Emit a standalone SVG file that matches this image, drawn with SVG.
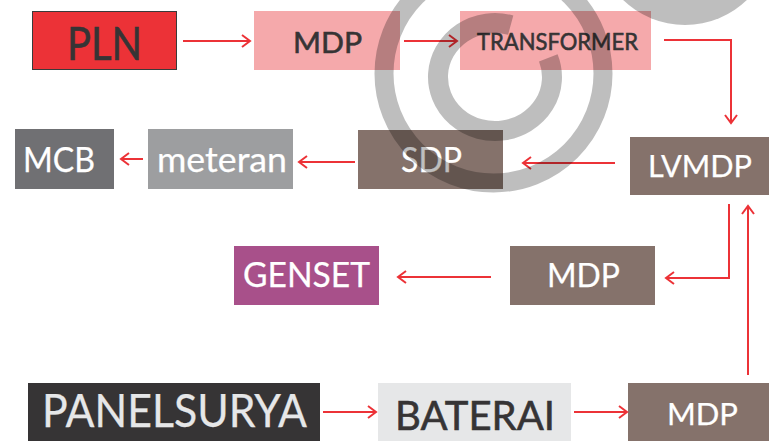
<svg xmlns="http://www.w3.org/2000/svg" width="769" height="441" viewBox="0 0 769 441">
  <style>
    .lbl { font-family: Lato, "Noto Sans", "Liberation Sans", sans-serif; text-anchor: middle; }
    .dark { fill: #363435; stroke: #363435; stroke-width: 0.6px; }
    .light { fill: #ffffff; stroke: #ffffff; stroke-width: 0.25px; }
    .pale { fill: #e6e7e8; stroke: #e6e7e8; stroke-width: 0.25px; }
    .link { fill: none; stroke: #ec3237; stroke-width: 2; marker-end: url(#head); }
  </style>
  <defs>
    <marker id="head" markerUnits="userSpaceOnUse" markerWidth="12" markerHeight="14" refX="9" refY="7" orient="auto">
      <path d="M1,1 L9,7 L1,13" fill="none" stroke="#ec3237" stroke-width="2"/>
    </marker>
  </defs>
  <rect width="769" height="441" fill="#ffffff"/>

  <!-- supply chain nodes -->
  <g id="pln">
    <rect x="32.5" y="11.5" width="144" height="58" fill="#ec3237" stroke="#3a3a3a" stroke-width="1"/>
    <text class="lbl dark" x="104.5" y="60" font-size="46" textLength="75" lengthAdjust="spacingAndGlyphs">PLN</text>
  </g>
  <g id="mdp-top">
    <rect x="254" y="11" width="146" height="59" fill="#f5a9ab"/>
    <text class="lbl dark" x="327.5" y="53" font-size="29" textLength="69" lengthAdjust="spacingAndGlyphs">MDP</text>
  </g>
  <g id="transformer">
    <rect x="460" y="11" width="191" height="59" fill="#f5a9ab"/>
    <text class="lbl dark" x="557.5" y="50" font-size="23" textLength="161" lengthAdjust="spacingAndGlyphs">TRANSFORMER</text>
  </g>
  <g id="lvmdp">
    <rect x="630" y="137" width="139" height="58" fill="#85726b"/>
    <text class="lbl light" x="700" y="177" font-size="30" textLength="104" lengthAdjust="spacingAndGlyphs">LVMDP</text>
  </g>
  <g id="sdp">
    <rect x="358" y="130" width="145" height="59" fill="#85726b"/>
    <text class="lbl light" x="431.5" y="172" font-size="34" textLength="61" lengthAdjust="spacingAndGlyphs">SDP</text>
  </g>
  <g id="meteran">
    <rect x="148" y="129" width="145" height="60" fill="#9d9ea0"/>
    <text class="lbl light" x="222" y="172" font-size="35" textLength="130" lengthAdjust="spacingAndGlyphs">meteran</text>
  </g>
  <g id="mcb">
    <rect x="15" y="129" width="99" height="60" fill="#707073"/>
    <text class="lbl light" x="59" y="172" font-size="34" textLength="72" lengthAdjust="spacingAndGlyphs">MCB</text>
  </g>
  <g id="mdp-mid">
    <rect x="510" y="246" width="145" height="59" fill="#85726b"/>
    <text class="lbl light" x="583.5" y="287" font-size="32" textLength="73" lengthAdjust="spacingAndGlyphs">MDP</text>
  </g>
  <g id="genset">
    <rect x="234" y="246" width="145" height="59" fill="#a8508a"/>
    <text class="lbl light" x="306.5" y="287" font-size="34" textLength="127" lengthAdjust="spacingAndGlyphs">GENSET</text>
  </g>
  <g id="panelsurya">
    <rect x="28" y="383" width="292" height="58" fill="#363435"/>
    <text class="lbl pale" x="174.5" y="427" font-size="46" textLength="265" lengthAdjust="spacingAndGlyphs">PANELSURYA</text>
  </g>
  <g id="baterai">
    <rect x="378" y="383" width="193" height="58" fill="#e6e7e8"/>
    <text class="lbl dark" x="475" y="430" font-size="41" textLength="160" lengthAdjust="spacingAndGlyphs">BATERAI</text>
  </g>
  <g id="mdp-bottom">
    <rect x="628" y="383" width="141" height="58" fill="#85726b"/>
    <text class="lbl light" x="702.5" y="425" font-size="31" textLength="71" lengthAdjust="spacingAndGlyphs">MDP</text>
  </g>

  <!-- connectors -->
  <g id="connectors">
    <path class="link" d="M183,41 H250"/>
    <path class="link" d="M404,41 H457"/>
    <path class="link" d="M664,40 H731 V123"/>
    <path class="link" d="M615,163 H523"/>
    <path class="link" d="M355,162 H299"/>
    <path class="link" d="M143,159 H121"/>
    <path class="link" d="M729,204 V278 H666"/>
    <path class="link" d="M491,277 H398"/>
    <path class="link" d="M748,375 V206"/>
    <path class="link" d="M323,412 H376"/>
    <path class="link" d="M574,412 H627"/>
  </g>

  <!-- translucent spiral mark laid over the chart -->
  <g id="spiral-mark" opacity="0.25">
    <circle cx="493.5" cy="73.5" r="109.5" fill="none" stroke="#000" stroke-width="19"/>
    <path d="M548.3,57.9 A57,54 0 1 1 510.7,25.1" fill="none" stroke="#000" stroke-width="20"/>
    <circle cx="685" cy="-64" r="89" fill="#000"/>
  </g>
</svg>
